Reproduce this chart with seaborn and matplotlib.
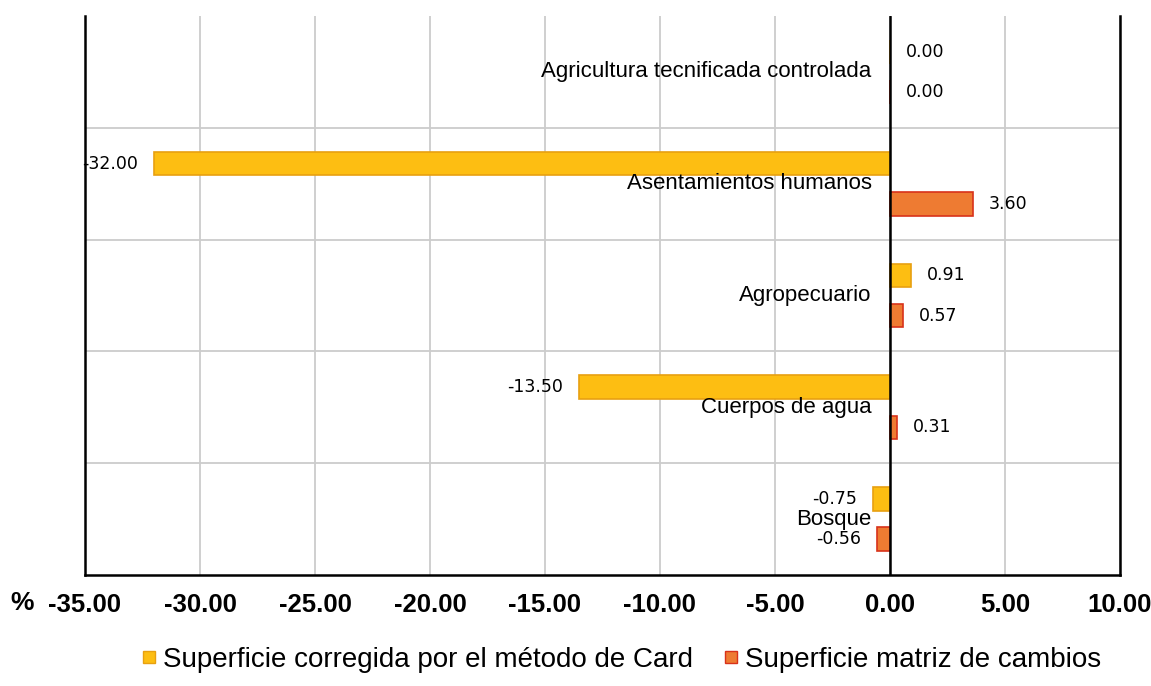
import seaborn as sns
import numpy as np
import pandas as pd
import matplotlib.pyplot as plt
from matplotlib.lines import Line2D

# categories, top to bottom
categories = ['Agricultura tecnificada controlada', 'Asentamientos humanos',
              'Agropecuario', 'Cuerpos de agua', 'Bosque']
card = [0.00, -32.00, 0.91, -13.50, -0.75]
matriz = [0.00, 3.60, 0.57, 0.31, -0.56]
series = ['Superficie corregida por el método de Card', 'Superficie matriz de cambios']
xticks = [-35, -30, -25, -20, -15, -10, -5, 0, 5, 10]

colors = {series[0]: '#FDBE12', series[1]: '#EE7B32'}
edges = {series[0]: '#E8A010', series[1]: '#D8321A'}

df = pd.DataFrame({
    'categoria': categories * 2,
    'valor': card + matriz,
    'serie': [series[0]] * len(categories) + [series[1]] * len(categories),
})

sns.set_style('white')
plt.rcParams['font.family'] = ['Liberation Sans', 'DejaVu Sans']
plt.rcParams['text.color'] = 'black'
plt.rcParams['xtick.color'] = 'black'

fig = plt.figure(figsize=(11.51, 6.86), dpi=100)
ax = fig.add_axes([0.0738, 0.1618, 0.973 - 0.0738, 0.9767 - 0.1618])

sns.barplot(data=df, y='categoria', x='valor', hue='serie', order=categories,
            hue_order=series, palette=colors, orient='h', width=0.72,
            saturation=1, legend=False, ax=ax)

# shrink bars around their centre and colour edges
bar_h = 0.21
for cont, s in zip(ax.containers, series):
    for p in cont:
        cy = p.get_y() + p.get_height() / 2
        p.set_y(cy - bar_h / 2)
        p.set_height(bar_h)
        p.set_edgecolor(edges[s])
        p.set_linewidth(1.2)

# value labels
for cont, vals in zip(ax.containers, [card, matriz]):
    for p, v in zip(cont, vals):
        cy = p.get_y() + p.get_height() / 2
        if v < 0:
            ax.text(v - 0.7, cy, f'{v:.2f}', ha='right', va='center',
                    fontsize=12.5, family='DejaVu Sans')
        else:
            ax.text(v + 0.7, cy, f'{v:.2f}', ha='left', va='center',
                    fontsize=12.5, family='DejaVu Sans')

# category labels next to the zero line
for i, c in enumerate(categories):
    ax.text(-0.8, i, c, ha='right', va='center', fontsize=16)

ax.set_xlim(-35, 10)
ax.set_ylim(4.5, -0.5)
ax.set_xticks(xticks)
ax.set_xticklabels([f'{t:.2f}' for t in xticks], fontsize=18.5, fontweight='bold')
ax.set_yticks([])
ax.set_ylabel('')
ax.set_xlabel('')
ax.tick_params(axis='x', length=0, pad=13)

for x in xticks:
    ax.axvline(x, color='#cccccc', lw=1.3, zorder=0)
for y in [0.5, 1.5, 2.5, 3.5]:
    ax.axhline(y, color='#cccccc', lw=1.3, zorder=0)
ax.axvline(0, color='black', lw=1.8, zorder=3)

for side in ['left', 'right', 'bottom']:
    ax.spines[side].set_color('black')
    ax.spines[side].set_linewidth(1.8)
ax.spines['top'].set_visible(False)

fig.text(0.009, 0.121, '%', fontsize=19, fontweight='bold', va='center')

handles = [Line2D([], [], marker='s', ls='', markersize=9,
                  markerfacecolor=colors[s], markeredgecolor=edges[s]) for s in series]
fig.legend(handles, series, loc='center', bbox_to_anchor=(0.537, 0.038), ncol=2,
           frameon=False, fontsize=20, handletextpad=0.0, handlelength=1.0,
           columnspacing=0.9)

fig.savefig('out.png', dpi=100)
